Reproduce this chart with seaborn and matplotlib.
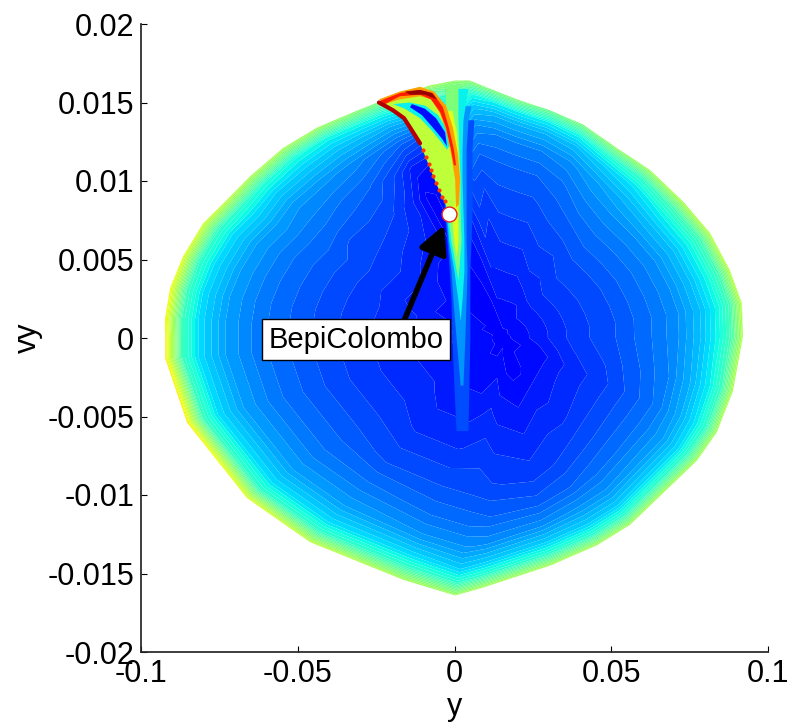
import numpy as np
import matplotlib
matplotlib.use("Agg")
import matplotlib.pyplot as plt
import seaborn as sns

# Outline of the region, clockwise from the left
boundary_y = [-.0923,-.0923,-.0907,-.0866,-.0802,-.0726,-.0652,-.0547,-.0439,-.0333,-.0247,-.0164,-.0078,.0002,.0049,.0123,.0199,.0305,.0410,.0518,.0624,.0729,.0815,.0879,.0917,.0920,.0888,.0837,.0774,.0560,.0455,.0305,.0091,.0002,-.0164,-.0461,-.0662,-.0853,-.0923]
boundary_vy = [.0001,.0013,.0032,.0052,.0073,.0088,.0103,.0121,.0134,.0143,.0150,.0155,.0161,.0164,.0164,.0158,.0152,.0145,.0136,.0121,.0107,.0087,.0067,.0043,.0022,.0001,-.0034,-.0060,-.0078,-.0119,-.0132,-.0145,-.0159,-.0164,-.0154,-.0130,-.0102,-.0054,-.0013]
centre_y = 0.016
centre_vy = 0.0
ring_fraction = [0, .15, .3, .45, .6, .72, .82, .9, .95, 1]

# Colour value (x100) along each ray from the centre to a boundary point
field_values = [
 [12,14,16,18,21,24,28,34,42,66],
 [12,14,16,18,21,24,28,34,42,65],
 [12,14,16,18,21,24,28,34,42,64],
 [12,14,16,18,21,24,28,34,41,62],
 [12,13,15,18,21,24,28,34,41,60],
 [12,13,15,18,21,24,28,34,40,58],
 [12,13,15,18,20,24,27,33,39,56],
 [12,12,14,17,20,23,27,33,38,55],
 [12,12,13,16,19,22,26,32,37,54],
 [12,12,13,15,16,19,24,31,37,52],
 [12,12,12,12,12,15,22,30,37,50],
 [12,12,13,13,13,14,20,30,37,52],
 [12,13,14,15,17,20,24,30,37,55],
 [12,14,16,18,20,24,30,38,45,52],
 [12,14,16,17,19,22,26,32,38,52],
 [12,14,16,18,20,22,25,30,36,50],
 [12,14,16,18,20,22,25,30,36,50],
 [12,14,16,18,20,22,25,30,36,48],
 [12,14,17,19,21,23,26,31,37,50],
 [12,15,17,19,22,25,28,33,39,52],
 [12,15,18,20,23,26,30,35,41,54],
 [12,15,18,20,23,26,31,37,43,56],
 [12,15,18,20,23,26,31,37,43,57],
 [12,15,18,20,23,26,31,37,43,57],
 [12,15,18,20,23,26,31,37,43,57],
 [12,15,18,20,23,26,31,37,43,56],
 [12,14,17,19,22,25,30,36,42,56],
 [12,13,16,18,21,24,29,35,41,55],
 [12,13,16,18,21,24,28,34,41,55],
 [12,13,15,17,20,23,27,33,40,55],
 [12,12,15,17,19,22,27,33,40,55],
 [12,12,14,16,18,21,26,33,40,55],
 [12,13,15,17,19,22,26,33,40,55],
 [12,14,16,18,20,23,27,33,40,54],
 [12,13,15,17,20,23,27,34,41,55],
 [12,13,15,17,20,24,28,34,41,58],
 [12,14,16,18,21,24,28,34,41,62],
 [12,14,16,18,21,24,28,34,42,66],
 [12,14,16,18,21,24,28,34,42,66],
]

# The bright vertical ridge: (colour value, vy rows, left edge, right edge)
ridge_levels = [
 (.20, [.0139,.0120,.0101,.0082,.0062,.0043,.0024,0,-.0030,-.0059],
       [-.0030,-.0030,-.0030,-.0033,-.0024,-.0017,-.0011,-.0008,-.0002,.0005],
       [.0062,.0056,.0056,.0056,.0053,.0049,.0049,.0049,.0046,.0043]),
 (.27, [.0148,.0139,.0120,.0101,.0082,.0062,.0043,.0024,0,-.0030],
       [-.0030,-.0030,-.0030,-.0030,-.0030,-.0021,-.0011,-.0005,.0005,.0018],
       [.0053,.0043,.0037,.0037,.0037,.0037,.0040,.0037,.0033,.0027]),
 (.36, [.0159,.0152,.0139,.0120,.0101,.0082,.0062,.0043,.0024,.0011],
       [-.0030,-.0030,-.0030,-.0030,-.0030,-.0027,-.0018,-.0002,.0011,.0018],
       [.0043,.0037,.0027,.0024,.0024,.0027,.0030,.0030,.0024,.0018]),
 (.50, [.0161,.0139,.0120,.0101,.0082,.0062,.0037],
       [-.0030,-.0030,-.0030,-.0030,-.0024,-.0011,.0011],
       [.0011,.0011,.0014,.0018,.0018,.0021,.0011]),
 (.62, [.0145,.0132,.0120,.0101,.0082,.0062,.0051],
       [-.0046,-.0033,-.0027,-.0018,-.0011,-.0002,.0005],
       [-.0008,.0005,.0011,.0014,.0011,.0011,.0005]),
]

# The lobe above the marker: (colour value, y, vy)
lobe_patches = [
 (.58, [-.0241,-.0174,-.0110,-.0069,-.0037,-.0014,.0002,.0011,.0011,-.0008,-.0024,-.0053,-.0078,-.0110,-.0142,-.0196],
       [.0150,.0156,.0158,.0155,.0147,.0134,.0117,.0101,.0088,.0082,.0083,.0096,.0108,.0124,.0136,.0145]),
 (.36, [-.0196,-.0142,-.0094,-.0053,-.0027,-.0014,-.0024,-.0043,-.0072,-.0110,-.0158],
       [.0149,.0150,.0148,.0142,.0134,.0123,.0120,.0125,.0132,.0140,.0146]),
 (.14, [-.0136,-.0094,-.0059,-.0030,-.0024,-.0040,-.0069,-.0104,-.0142],
       [.0149,.0146,.0140,.0131,.0122,.0127,.0134,.0142,.0147]),
 (.74, [-.0241,-.0174,-.0110,-.0065,-.0027,-.0005,.0011,.0018,.0014,.0005,.0002,-.0011,-.0027,-.0046,-.0075,-.0110,-.0174,-.0222],
       [.0152,.0157,.0160,.0157,.0148,.0134,.0117,.0101,.0085,.0083,.0101,.0117,.0132,.0143,.0152,.0154,.0152,.0149]),
 (.88, [-.0238,-.0174,-.0110,-.0069,-.0037,-.0018,-.0002,.0005,-.0002,-.0011,-.0027,-.0046,-.0075,-.0110,-.0174,-.0222],
       [.0151,.0156,.0158,.0156,.0147,.0134,.0120,.0110,.0110,.0120,.0134,.0144,.0152,.0155,.0154,.0149]),
 (.98, [-.0158,-.0110,-.0072,-.0056,-.0069,-.0094,-.0142],
       [.0157,.0158,.0156,.0152,.0153,.0155,.0155]),
]
edge_y = [-.0241,-.0196,-.0161,-.0132,-.0110]
edge_vy = [.0150,.0145,.0140,.0131,.0124]
dots_y = [-.0100,-.0091,-.0081,-.0075,-.0069,-.0059,-.0049,-.0040,-.0030]
dots_vy = [.0120,.0115,.0111,.0107,.0103,.0099,.0094,.0090,.0087]

mission_name = "BepiColombo"
mission_y = [-.0019]
mission_vy = [.0079]
x_ticks = [-.1, -.05, 0, .05, .1]
x_labels = ["-0.1", "-0.05", "0", "0.05", "0.1"]
y_ticks = [-.02, -.015, -.01, -.005, 0, .005, .01, .015, .02]
y_labels = ["-0.02", "-0.015", "-0.01", "-0.005", "0", "0.005", "0.01", "0.015", "0.02"]

sns.set_theme(style="ticks")
plt.rcParams["font.family"] = ["Liberation Sans", "DejaVu Sans"]
cmap = matplotlib.colormaps["jet"]

fig = plt.figure(figsize=(7.88, 7.23), dpi=100)
ax = fig.add_axes([141/788, 1 - 652/723, 627/788, 628/723])

by = np.array(boundary_y + boundary_y[:1])
bv = np.array(boundary_vy + boundary_vy[:1])
vals = np.array(field_values + field_values[:1], dtype=float) / 100
fr = np.array(ring_fraction)
X = centre_y + np.outer(by - centre_y, fr)
Y = centre_vy + np.outer(bv - centre_vy, fr)
ax.contourf(X, Y, vals, levels=np.linspace(0, 1, 65), cmap=cmap, vmin=0, vmax=1,
            antialiased=True, zorder=1)

for v, rows, left, right in ridge_levels:
    ax.fill_betweenx(rows, left, right, color=cmap(v), lw=0, zorder=2)
for v, py, pv in lobe_patches:
    ax.fill(py, pv, color=cmap(v), lw=0, zorder=3)

sns.lineplot(x=edge_y, y=edge_vy, sort=False, estimator=None, color=cmap(.95), lw=3,
             ax=ax, zorder=4)
sns.scatterplot(x=dots_y, y=dots_vy, color=cmap(.85), s=9, linewidth=0, ax=ax, zorder=4)

ax.annotate("", xy=(-.0033, .0072), xytext=(-.0161, .0011),
            arrowprops=dict(arrowstyle="-|>,head_length=0.55,head_width=0.28", lw=4,
                            color="black", mutation_scale=30, shrinkA=0, shrinkB=0),
            zorder=5)
ax.text(-.0314, -.0001, mission_name, fontsize=21, color="black", ha="center", va="center",
        bbox=dict(boxstyle="square,pad=0.22", fc="white", ec="black", lw=1), zorder=6)
sns.scatterplot(x=mission_y, y=mission_vy, s=115, color="white", edgecolor="#e8202a",
                linewidth=1, ax=ax, zorder=7)

ax.set_xlim(-.1, .1)
ax.set_ylim(-.02, .02)
ax.set_xticks(x_ticks, x_labels)
ax.set_yticks(y_ticks, y_labels)
ax.tick_params(direction="in", length=4.5, width=0.8, labelsize=22, colors="black", pad=5)
ax.set_xlabel("y", fontsize=22, color="black", labelpad=2)
ax.set_ylabel("vy", fontsize=22, color="black", labelpad=3)
sns.despine(ax=ax)
fig.savefig("out.png", dpi=100)
